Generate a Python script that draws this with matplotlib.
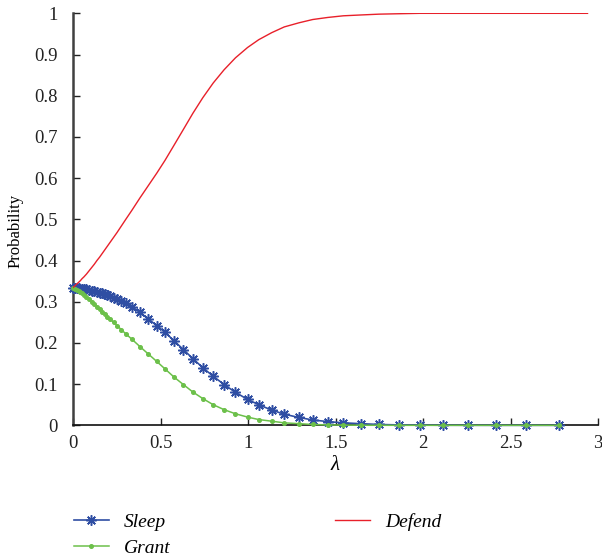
import matplotlib
matplotlib.use("Agg")
import matplotlib.pyplot as plt

plt.rcParams['font.family'] = ['Liberation Serif', 'DejaVu Serif']
plt.rcParams['mathtext.fontset'] = 'custom'
plt.rcParams['mathtext.it'] = 'Liberation Serif:italic'

# lambda grid (shared by Sleep and Grant)
lam = [0, 0.01, 0.02, 0.03, 0.04, 0.05, 0.06, 0.075, 0.09, 0.105, 0.12, 0.135,
       0.15, 0.165, 0.18, 0.195, 0.21, 0.23, 0.25, 0.275, 0.30, 0.335, 0.381,
       0.429, 0.477, 0.524, 0.576, 0.629, 0.683, 0.740, 0.800, 0.862, 0.927,
       0.996, 1.060, 1.134, 1.206, 1.290, 1.369, 1.455, 1.544, 1.643, 1.748,
       1.860, 1.982, 2.112, 2.258, 2.417, 2.588, 2.779]

sleep = [0.334, 0.334, 0.333, 0.333, 0.332, 0.332, 0.331, 0.330, 0.329, 0.327,
         0.326, 0.324, 0.322, 0.320, 0.318, 0.316, 0.313, 0.310, 0.306, 0.301,
         0.296, 0.288, 0.274, 0.258, 0.242, 0.226, 0.205, 0.184, 0.162, 0.140,
         0.119, 0.099, 0.080, 0.063, 0.050, 0.037, 0.027, 0.019, 0.013, 0.009,
         0.006, 0.004, 0.002, 0.001, 0.0005, 0.0002, 0.0001, 0, 0, 0]

grant = [0.333, 0.331, 0.328, 0.326, 0.323, 0.320, 0.317, 0.312, 0.306, 0.300,
         0.294, 0.288, 0.282, 0.276, 0.270, 0.264, 0.258, 0.250, 0.242, 0.232,
         0.222, 0.209, 0.191, 0.173, 0.155, 0.137, 0.117, 0.099, 0.081, 0.065,
         0.050, 0.038, 0.028, 0.020, 0.014, 0.010, 0.006, 0.004, 0.002, 0.001,
         0.0005, 0.0002, 0.0001, 0, 0, 0, 0, 0, 0, 0]

# Defend is a plain line that runs a bit further right
lam_defend = lam + [2.94]
defend = [0.335, 0.339, 0.343, 0.347, 0.351, 0.356, 0.360, 0.367, 0.375, 0.383,
          0.391, 0.400, 0.408, 0.417, 0.426, 0.435, 0.444, 0.456, 0.468, 0.484,
          0.500, 0.522, 0.552, 0.582, 0.612, 0.643, 0.680, 0.718, 0.757, 0.795,
          0.831, 0.863, 0.892, 0.917, 0.936, 0.953, 0.967, 0.977, 0.985, 0.990,
          0.994, 0.996, 0.998, 0.999, 1.0, 1.0, 1.0, 1.0, 1.0, 1.0, 1.0]

xticks = [0, 0.5, 1, 1.5, 2, 2.5, 3]
xticklabels = ['0', '0.5', '1', '1.5', '2', '2.5', '3']
yticks = [0, 0.1, 0.2, 0.3, 0.4, 0.5, 0.6, 0.7, 0.8, 0.9, 1]
yticklabels = ['0', '0.1', '0.2', '0.3', '0.4', '0.5', '0.6', '0.7', '0.8', '0.9', '1']

fig = plt.figure(figsize=(6.02, 5.60), dpi=100)
ax = fig.add_axes([0.1218, 0.2405, 0.8716, 0.7357])

ax.plot(lam, sleep, color='#2f4ea3', lw=1.2, marker=(8, 2, 0), ms=7.5,
        mew=1.1, label='Sleep', clip_on=False, zorder=3)
ax.plot(lam, grant, color='#6cc04a', lw=1.1, marker='o', ms=2.6,
        label='Grant', clip_on=False, zorder=4)
ax.plot(lam_defend, defend, color='#e8202a', lw=1.0, label='Defend', zorder=5)

ax.set_xlim(0, 3)
ax.set_ylim(0, 1)
ax.set_xticks(xticks)
ax.set_xticklabels(xticklabels)
ax.set_yticks(yticks)
ax.set_yticklabels(yticklabels)

for s in ['top', 'right']:
    ax.spines[s].set_visible(False)
ax.spines['left'].set_color('#404040')
ax.spines['left'].set_linewidth(1.8)
ax.spines['bottom'].set_color('#111111')
ax.spines['bottom'].set_linewidth(1.2)
ax.tick_params(direction='in', length=5, width=1.0, labelsize=13.5,
               colors='#222222')
ax.tick_params(axis='x', pad=7)
ax.tick_params(axis='y', pad=11)

ax.set_xlabel(r'$\lambda$', fontsize=15, labelpad=3)
ax.set_ylabel('Probability', fontsize=12)
ax.yaxis.set_label_coords(-0.094, 0.472)

fig.legend(loc='upper left', bbox_to_anchor=(0.11, 0.098), ncol=2,
           frameon=False, prop={'style': 'italic', 'size': 14},
           handlelength=1.8, handletextpad=0.75, columnspacing=8.5,
           labelspacing=0.42, borderaxespad=0)

fig.savefig('out.png', dpi=100)
